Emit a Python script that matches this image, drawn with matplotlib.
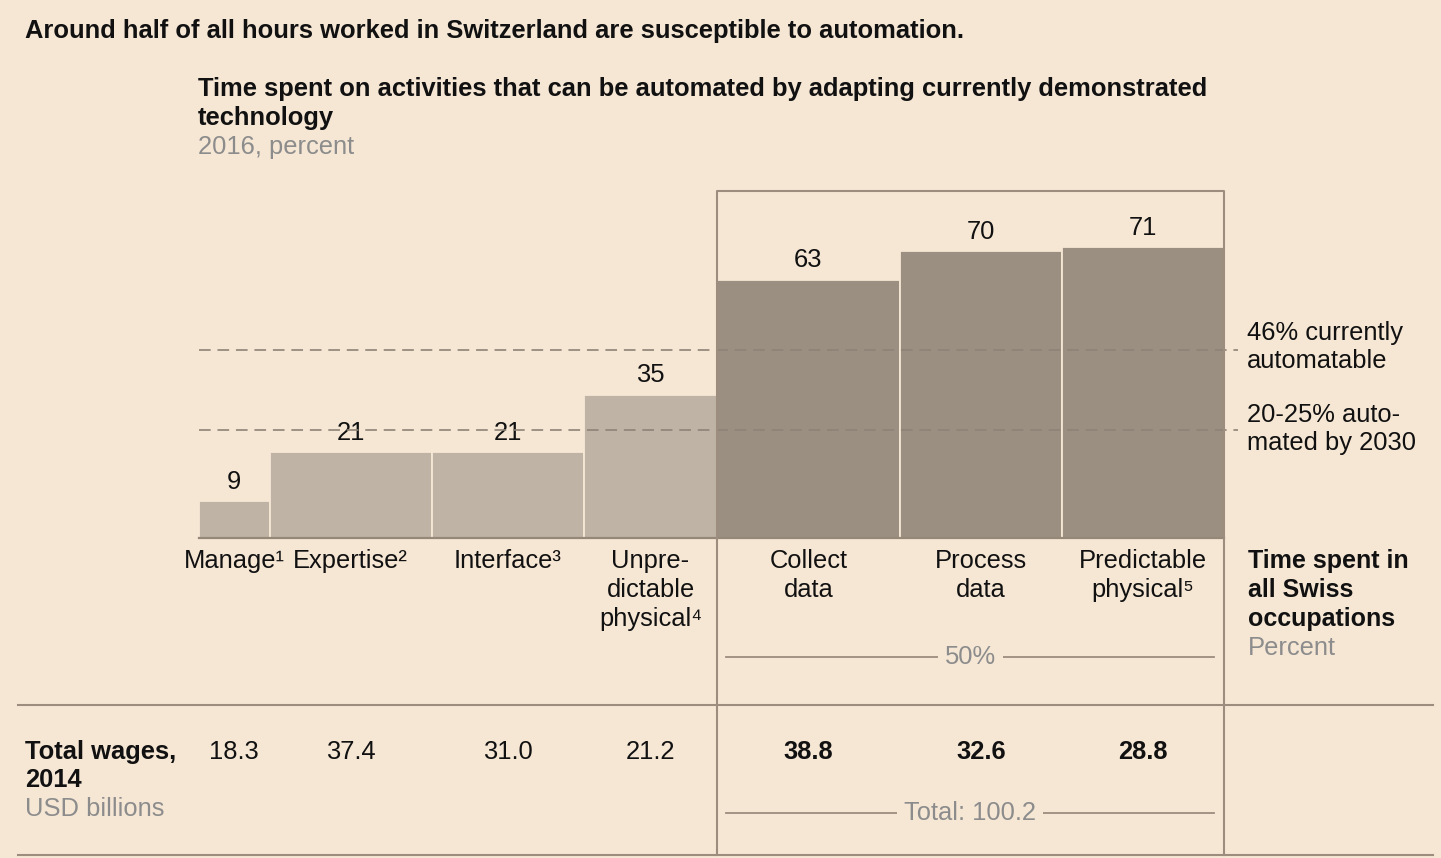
import numpy as np
import matplotlib.pyplot as plt

plt.rcParams['font.family'] = ['Liberation Sans', 'DejaVu Sans']

# activity categories, share of hours worked (bar widths) and automatable share (bar heights)
categories = ['Manage¹', 'Expertise²', 'Interface³', 'Unpre-\ndictable\nphysical⁴',
              'Collect\ndata', 'Process\ndata', 'Predictable\nphysical⁵']
time_share = [6.9, 15.8, 14.9, 12.9, 17.9, 15.8, 15.8]
automatable = [9, 21, 21, 35, 63, 70, 71]
wages = [18.3, 37.4, 31.0, 21.2, 38.8, 32.6, 28.8]
highlighted = [False, False, False, False, True, True, True]
current_level = 46
level_2030 = 26.5

bg = '#f6e7d5'
light_bar = '#bfb3a6'
dark_bar = '#9b8f82'
rule_c = '#9c8d7e'
gray_txt = '#8c8c8c'
black = '#111111'
fs = 18.4

W, H = 1441, 858
fig = plt.figure(figsize=(W / 100, H / 100), dpi=100, facecolor=bg)

# bar panel: x runs over 100% of hours, baseline at pixel row 538
x0, x1, base, ppu = 199, 1224, 538.3, 4.103
ymax = 80
ax = fig.add_axes([x0 / W, (H - base) / H, (x1 - x0) / W, ymax * ppu / H])
ax.set_xlim(0, 100)
ax.set_ylim(0, ymax)
ax.axis('off')

# overlay in pixel coordinates for text and rules
ov = fig.add_axes([0, 0, 1, 1], zorder=3)
ov.set_xlim(0, W)
ov.set_ylim(H, 0)
ov.axis('off')
ov.patch.set_alpha(0)


def px(xd):
    return x0 + xd * (x1 - x0) / 100.0


def lines(x, y, text, step=29, **kw):
    for i, s in enumerate(text.split('\n')):
        ov.text(x, y + i * step, s, va='center', **kw)


share = np.array(time_share)
lefts = np.concatenate([[0], np.cumsum(share)[:-1]])
centers = lefts + share / 2
colors = [dark_bar if h else light_bar for h in highlighted]

ax.bar(lefts, automatable, width=share, align='edge', color=colors,
       edgecolor=bg, linewidth=1.3, zorder=2)
ax.plot([0, 100], [0, 0], color='#958878', lw=1.6, zorder=3, clip_on=False)

for c, v in zip(centers, automatable):
    ax.annotate(str(v), (c, v), xytext=(0, 14), textcoords='offset points',
                ha='center', va='center', fontsize=fs, color=black)

# reference levels
for lvl in [current_level, level_2030]:
    ax.plot([0, 101.4], [lvl, lvl], color='#8e8276', lw=1.4, ls=(0, (6, 3.5)),
            alpha=0.85, zorder=4, clip_on=False)

lines(1247, 333, '46% currently\nautomatable', step=28, fontsize=fs, color=black)
lines(1247, 415, '20-25% auto-\nmated by 2030', step=28, fontsize=fs, color=black)

# titles
ov.text(25, 31, 'Around half of all hours worked in Switzerland are susceptible to automation.',
        fontsize=fs, fontweight='bold', va='center', color=black)
lines(198, 89, 'Time spent on activities that can be automated by adapting currently demonstrated\ntechnology',
      fontsize=fs, fontweight='bold', color=black)
ov.text(198, 147, '2016, percent', fontsize=fs, va='center', color=gray_txt)

# category labels under the bars
for c, lab in zip(centers, categories):
    lines(px(c), 561, lab, fontsize=fs, ha='center', color=black)

lines(1248, 561, 'Time spent in\nall Swiss\noccupations', fontsize=18, fontweight='bold', color=black)
ov.text(1248, 648, 'Percent', fontsize=fs, va='center', color=gray_txt)

# box around the automatable group
box_l = px(lefts[4])
box_r = px(100)
box_c = (box_l + box_r) / 2
ov.plot([box_l, box_l, box_r, box_r], [855, 191, 191, 855], color=rule_c, lw=1.5)

group_share = share[4:].sum()
ov.plot([box_l + 9, box_r - 10], [657, 657], color=rule_c, lw=1.3)
ov.text(box_c, 657, f'{round(group_share)}%', fontsize=fs, ha='center', va='center',
        color=gray_txt, bbox=dict(fc=bg, ec='none', pad=5))

# wages table
ov.plot([18, 1433], [705, 705], color=rule_c, lw=1.5)
ov.plot([18, 1433], [855, 855], color=rule_c, lw=1.5)
lines(25, 752, 'Total wages,\n2014', step=28, fontsize=fs, fontweight='bold', color=black)
ov.text(25, 809, 'USD billions', fontsize=fs, va='center', color=gray_txt)

for c, w, h in zip(centers, wages, highlighted):
    ov.text(px(c), 752, f'{w:.1f}', fontsize=fs, ha='center', va='center', color=black,
            fontweight='bold' if h else 'normal')

group_wages = sum(w for w, h in zip(wages, highlighted) if h)
ov.plot([box_l + 9, box_r - 10], [813, 813], color=rule_c, lw=1.3)
ov.text(box_c, 813, f'Total: {group_wages:.1f}', fontsize=fs, ha='center', va='center',
        color=gray_txt, bbox=dict(fc=bg, ec='none', pad=5))

fig.savefig('out.png', dpi=100, facecolor=bg)
